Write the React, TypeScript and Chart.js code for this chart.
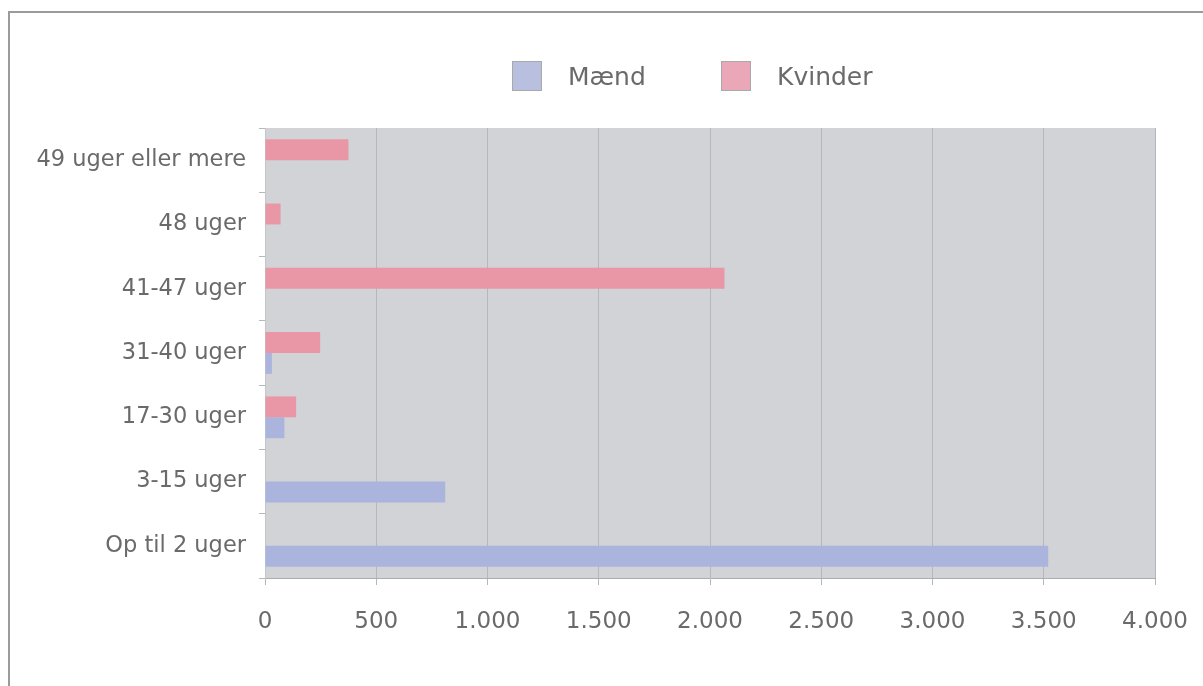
import React, { useEffect, useRef } from 'react';
import { Chart, registerables } from 'chart.js';

Chart.register(...registerables);

const categories = [
  '49 uger eller mere',
  '48 uger',
  '41-47 uger',
  '31-40 uger',
  '17-30 uger',
  '3-15 uger',
  'Op til 2 uger',
];
const seriesNames = ['Mænd', 'Kvinder'];
const maendValues = [null, null, null, 31, 87, 810, 3520];
const kvinderValues = [375, 70, 2065, 248, 140, null, null];
const xTickLabels = ['0', '500', '1.000', '1.500', '2.000', '2.500', '3.000', '3.500', '4.000'];

const FONT = '"DejaVu Sans", sans-serif';
const TEXT = '#6a6a6a';
const MAEND_BAR = '#abb4dd';
const KVINDER_BAR = '#e997a6';
const MAEND_KEY = '#b8bfdf';
const KVINDER_KEY = '#e9a7b7';

const plotBgPlugin = {
  id: 'plotBg',
  beforeDraw(chart: any) {
    const { ctx, chartArea } = chart;
    ctx.save();
    ctx.fillStyle = '#d1d3d7';
    ctx.fillRect(chartArea.left, chartArea.top, chartArea.right - chartArea.left, chartArea.bottom - chartArea.top);
    ctx.restore();
  },
};

const legendPlugin = {
  id: 'customLegend',
  afterDraw(chart: any) {
    const ctx = chart.ctx;
    const items = [
      { label: seriesNames[0], color: MAEND_KEY, x: 512 },
      { label: seriesNames[1], color: KVINDER_KEY, x: 721 },
    ];
    const boxTop = 61;
    const box = 30;
    ctx.save();
    ctx.font = `25px ${FONT}`;
    ctx.textBaseline = 'middle';
    ctx.textAlign = 'left';
    for (const it of items) {
      ctx.fillStyle = it.color;
      ctx.fillRect(it.x, boxTop, box, box);
      ctx.strokeStyle = '#a9a9a9';
      ctx.lineWidth = 1;
      ctx.strokeRect(it.x + 0.5, boxTop + 0.5, box - 1, box - 1);
      ctx.fillStyle = TEXT;
      ctx.fillText(it.label, it.x + box + 26, boxTop + box / 2 + 2);
    }
    ctx.restore();
  },
};

export default function App() {
  const ref = useRef<HTMLCanvasElement>(null);
  useEffect(() => {
    const chart = new Chart(ref.current as HTMLCanvasElement, {
      type: 'bar',
      data: {
        labels: categories,
        datasets: [
          {
            label: seriesNames[1],
            data: kvinderValues as any,
            backgroundColor: KVINDER_BAR,
            borderWidth: 0,
          },
          {
            label: seriesNames[0],
            data: maendValues as any,
            backgroundColor: MAEND_BAR,
            borderWidth: 0,
          },
        ],
      },
      options: {
        indexAxis: 'y',
        responsive: false,
        animation: false,
        layout: { padding: { top: 128, right: 48, left: 0, bottom: 0 } },
        datasets: { bar: { barPercentage: 1, categoryPercentage: 0.65 } },
        plugins: {
          legend: { display: false },
          tooltip: { enabled: false },
        },
        scales: {
          x: {
            min: 0,
            max: 4000,
            ticks: {
              stepSize: 500,
              padding: 23,
              maxRotation: 0,
              color: TEXT,
              font: { family: FONT, size: 23 },
              callback: (_v: any, i: number) => xTickLabels[i],
            },
            grid: { color: '#b4b8bd', tickLength: 7, drawOnChartArea: true },
            border: { color: '#a9acb1' },
            afterFit: (s: any) => {
              s.height = 108;
              s.paddingLeft = 0;
              s.paddingRight = 0;
            },
          },
          y: {
            ticks: {
              padding: 13,
              color: TEXT,
              font: { family: FONT, size: 22.5 },
            },
            grid: { drawOnChartArea: false, tickLength: 6, color: '#b8b9bb' },
            border: { color: '#c3c5c9' },
            afterFit: (s: any) => {
              s.width = 265;
              s.paddingTop = 0;
              s.paddingBottom = 0;
            },
          },
        },
      } as any,
      plugins: [plotBgPlugin, legendPlugin],
    });
    return () => chart.destroy();
  }, []);

  return (
    <div
      style={{
        position: 'fixed',
        left: 0,
        top: 0,
        width: 1203,
        height: 686,
        background: '#ffffff',
        overflow: 'hidden',
      }}
    >
      <canvas
        ref={ref}
        width={1203}
        height={686}
        style={{ position: 'absolute', left: 0, top: 0, width: 1203, height: 686 }}
      />
      <div
        style={{
          position: 'absolute',
          left: 8,
          top: 11,
          width: 1300,
          height: 800,
          borderTop: '2px solid #9b9b9b',
          borderLeft: '2px solid #9b9b9b',
          pointerEvents: 'none',
        }}
      />
    </div>
  );
}
